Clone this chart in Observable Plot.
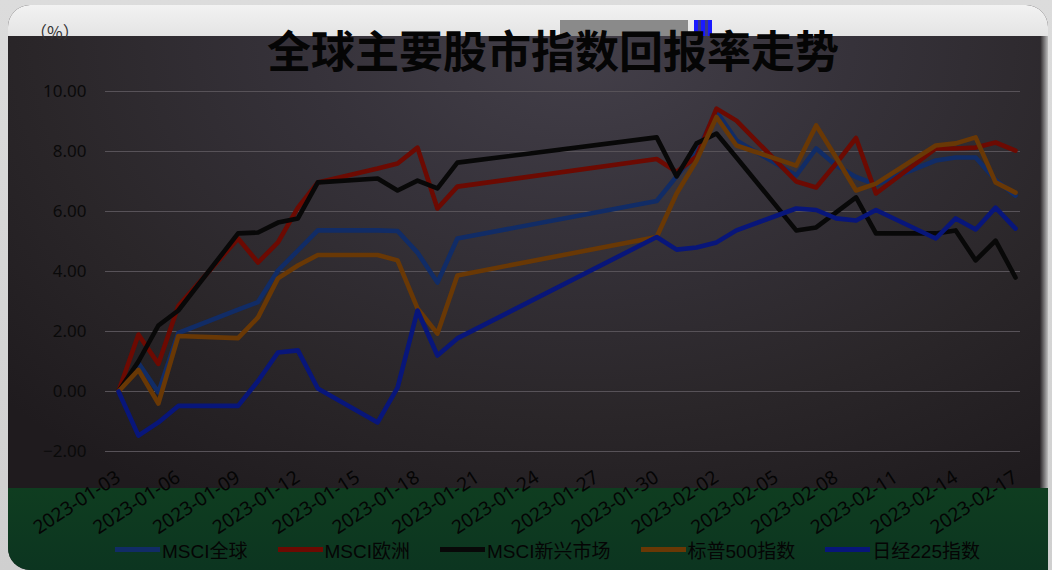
<!DOCTYPE html>
<html>
<head>
<meta charset="utf-8">
<script src="https://cdn.jsdelivr.net/npm/d3@7"></script>
<script src="https://cdn.jsdelivr.net/npm/@observablehq/plot@0.6"></script>
<style>
  html, body { margin: 0; padding: 0; }
  body { width: 1052px; height: 570px; position: relative; overflow: hidden;
         background: linear-gradient(180deg, #dcdcdc 0%, #cfcfcf 100%);
         font-family: "Liberation Sans", "Noto Sans CJK SC", sans-serif; }
  #panel { position: absolute; left: 8px; top: 5px; width: 1040px; height: 565px;
           border-radius: 22px 22px 0 22px; overflow: hidden; background: #2b272a; }
  #topband { position: absolute; left: 0; top: 0; width: 100%; height: 31px;
             background: linear-gradient(180deg, #f2f2f2 0%, #e4e4e4 100%); }
  #dark { position: absolute; left: 0; top: 31px; width: 100%; height: 452px;
          background: radial-gradient(ellipse 75% 120% at 55% 0%, #44404a 0%, #36323a 35%, #2a2629 70%, #1f1b1e 100%); }
  #rightedge { position: absolute; right: 0; top: 31px; width: 8px; height: 452px;
               background: linear-gradient(90deg, #2a2629, #bdbdbd); }
  #green { position: absolute; left: 0; top: 483px; width: 100%; height: 82px;
           background: linear-gradient(180deg, #0f3d20 0%, #0c3520 100%); }
  #artifact1 { position: absolute; left: 560px; top: 20px; width: 128px; height: 16px; background: #8a8a8a; }
  #artifact2 { position: absolute; left: 694px; top: 20px; width: 18px; height: 16px;
               background: repeating-linear-gradient(90deg, #1a1aff 0 4px, #3a3a8a 4px 7px); }
  #unit { position: absolute; left: 30px; top: 19px; font-size: 17px; color: #333;
          font-family: "Noto Sans CJK SC", sans-serif; }
  #title { position: absolute; left: 0; width: 1106px; top: 26px; text-align: center;
           font-size: 44px; line-height: 46px; font-weight: bold; color: #050505;
           font-family: "Noto Sans CJK SC", sans-serif; }
  #chart { position: absolute; left: 0; top: 0; }
  #legend { position: absolute; left: 115px; top: 536px; display: flex; gap: 30px; align-items: center;
            font-size: 19px; color: #050505; font-family: "Liberation Sans", "Noto Sans CJK SC", sans-serif; }
  .item { display: flex; align-items: center; }
  .sw { width: 45px; height: 5px; margin-right: 2px; }
</style>
</head>
<body>
<div id="panel">
  <div id="topband"></div>
  <div id="dark"></div>
  <div id="rightedge"></div>
  <div id="green"></div>
</div>
<div id="artifact1"></div>
<div id="artifact2"></div>
<div id="unit">（%）</div>
<div id="title">全球主要股市指数回报率走势</div>
<div id="chart"></div>
<div id="legend"></div>
<script>
const dates = ["2023-01-03","2023-01-04","2023-01-05","2023-01-06","2023-01-09","2023-01-10","2023-01-11","2023-01-12","2023-01-13","2023-01-16","2023-01-17","2023-01-18","2023-01-19","2023-01-20","2023-01-30","2023-01-31","2023-02-01","2023-02-02","2023-02-03","2023-02-06","2023-02-07","2023-02-08","2023-02-09","2023-02-10","2023-02-13","2023-02-14","2023-02-15","2023-02-16","2023-02-17"];

const seriesNames = ["MSCI全球", "MSCI欧洲", "MSCI新兴市场", "标普500指数", "日经225指数"];
const seriesColors = ["#112c66", "#6c0a02", "#080808", "#693805", "#08167a"];

const msciWorld = [0, 0.95, -0.03, 1.95, 2.73, 2.98, 4.03, 4.7, 5.37, 5.37, 5.35, 4.63, 3.63, 5.1, 6.35, 7.17, 7.97, 9.33, 8.37, 7.2, 8.1, 7.53, 7.15, 6.9, 7.7, 7.8, 7.8, 7.05, 6.53];
const msciEurope = [0, 1.9, 0.92, 2.85, 5.1, 4.3, 4.97, 6.13, 6.97, 7.43, 7.6, 8.13, 6.1, 6.83, 7.75, 7.32, 7.83, 9.43, 9.03, 7.0, 6.8, 7.6, 8.45, 6.6, 8.1, 8.1, 8.13, 8.3, 8.03];
const msciEM = [0, 1.0, 2.2, 2.7, 5.27, 5.3, 5.63, 5.77, 6.97, 7.1, 6.7, 7.03, 6.77, 7.63, 8.47, 7.17, 8.27, 8.6, 7.8, 5.37, 5.47, 5.97, 6.47, 5.27, 5.27, 5.37, 4.37, 5.03, 3.8];
const sp500 = [0, 0.72, -0.4, 1.85, 1.78, 2.47, 3.77, 4.2, 4.55, 4.55, 4.37, 2.77, 1.93, 3.87, 5.15, 6.6, 7.7, 9.15, 8.2, 7.53, 8.87, 7.8, 6.7, 6.93, 8.2, 8.27, 8.47, 6.97, 6.63];
const nikkei = [0, -1.47, -1.03, -0.48, -0.48, 0.35, 1.3, 1.37, 0.1, -1.03, 0.13, 2.7, 1.2, 1.77, 5.15, 4.73, 4.8, 4.97, 5.37, 6.1, 6.05, 5.77, 5.7, 6.05, 5.1, 5.77, 5.4, 6.13, 5.43];

const xTickLabels = ["2023-01-03","2023-01-06","2023-01-09","2023-01-12","2023-01-15","2023-01-18","2023-01-21","2023-01-24","2023-01-27","2023-01-30","2023-02-02","2023-02-05","2023-02-08","2023-02-11","2023-02-14","2023-02-17"];
const yTicks = [-2, 0, 2, 4, 6, 8, 10];

const allSeries = [msciWorld, msciEurope, msciEM, sp500, nikkei];
const parse = d3.utcParse("%Y-%m-%d");
const rows = [];
allSeries.forEach((vals, si) => {
  vals.forEach((v, i) => rows.push({date: parse(dates[i]), value: v, series: seriesNames[si]}));
});

const chart = Plot.plot({
  width: 1052,
  height: 570,
  marginLeft: 118,
  marginRight: 37,
  marginTop: 91,
  marginBottom: 119,
  style: {background: "transparent", overflow: "visible"},
  x: {type: "utc", domain: [parse(dates[0]), parse(dates[dates.length - 1])]},
  y: {domain: [-2, 10]},
  color: {domain: seriesNames, range: seriesColors},
  marks: [
    Plot.ruleY(yTicks, {stroke: "#575258", strokeWidth: 1, insetLeft: -13, insetRight: -5}),
    Plot.axisY({ticks: yTicks, tickFormat: d3.format(".2f"), tickSize: 0, tickPadding: 32,
                fontSize: 17, fill: "#0a0a0a", label: null}),
    Plot.axisX({ticks: xTickLabels.map(parse), tickFormat: d3.utcFormat("%Y-%m-%d"), tickSize: 0,
                tickPadding: 24, tickRotate: -33, fontSize: 19, fill: "#050505", label: null}),
    Plot.line(rows, {x: "date", y: "value", z: "series", stroke: "series", strokeWidth: 4.6,
                     strokeLinejoin: "round", strokeLinecap: "round"})
  ]
});
document.getElementById("chart").appendChild(chart);

const legend = document.getElementById("legend");
seriesNames.forEach((name, i) => {
  const item = document.createElement("div");
  item.className = "item";
  const sw = document.createElement("div");
  sw.className = "sw";
  sw.style.background = seriesColors[i];
  const t = document.createElement("span");
  t.textContent = name;
  item.appendChild(sw);
  item.appendChild(t);
  legend.appendChild(item);
});
</script>
</body>
</html>
